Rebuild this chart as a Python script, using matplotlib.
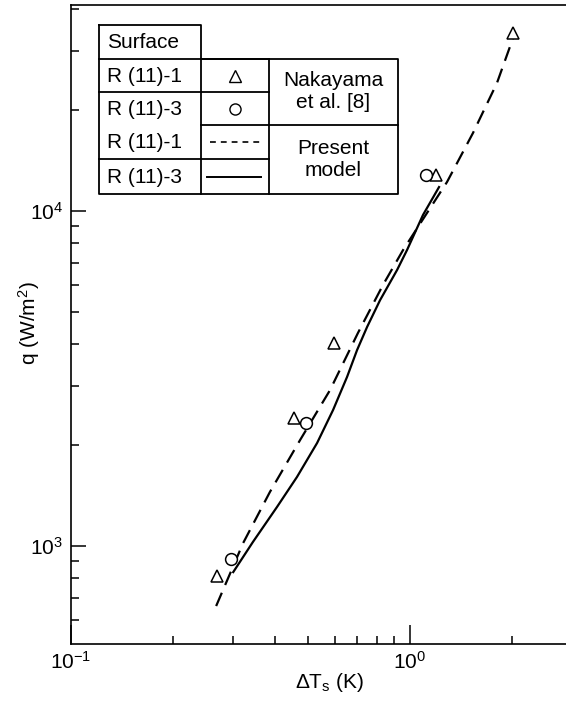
import matplotlib

matplotlib.use("Agg")
import matplotlib.pyplot as plt
from matplotlib.ticker import LogLocator, NullFormatter

plt.rcParams["font.family"] = ["Liberation Sans", "DejaVu Sans"]
plt.rcParams["mathtext.fontset"] = "custom"
plt.rcParams["mathtext.rm"] = "Liberation Sans"
plt.rcParams["mathtext.it"] = "Liberation Sans:italic"

# ── data ──
tri_dT = [0.270, 0.455, 0.597, 1.193, 2.01]
tri_q = [813, 2410, 4036, 12800, 34000]
circ_dT = [0.296, 0.493, 1.115]
circ_q = [915, 2330, 12800]

# present model, R(11)-1 (dashed)
dash_dT = [0.268, 0.322, 0.386, 0.474, 0.581, 0.702, 0.832, 0.954,
           1.286, 1.534, 1.805, 2.013]
dash_q = [662, 1021, 1449, 2072, 2922, 4323, 6012, 7648,
          12210, 17100, 24100, 32800]

# present model, R(11)-3 (solid)
solid_dT = [0.301, 0.344, 0.405, 0.464, 0.532, 0.593, 0.652, 0.698, 0.747, 0.816,
            0.916, 0.980, 1.092, 1.218]
solid_q = [836, 1028, 1307, 1607, 2030, 2547, 3196, 3846, 4505, 5420,
           6668, 7648, 9727, 11790]

FS = 15
W, H = 566, 704

fig = plt.figure(figsize=(W / 100, H / 100), dpi=100)
ax = fig.add_axes([71 / W, 1 - 644 / H, 1 - 71 / W, (644 - 5) / H])

ax.plot(dash_dT, dash_q, color="black", lw=1.6, dashes=(6.5, 3.8))
ax.plot(solid_dT, solid_q, color="black", lw=1.6)
ax.plot(tri_dT, tri_q, ls="none", marker="^", ms=9, mfc="white", mec="black", mew=1.1)
ax.plot(circ_dT, circ_q, ls="none", marker="o", ms=8.5, mfc="white", mec="black", mew=1.1)

ax.set_xscale("log")
ax.set_yscale("log")
ax.set_xlim(0.1, 2.885)
ax.set_ylim(510, 41200)

ax.xaxis.set_minor_locator(LogLocator(base=10, subs=range(2, 10)))
ax.yaxis.set_minor_locator(LogLocator(base=10, subs=range(2, 10)))
ax.xaxis.set_minor_formatter(NullFormatter())
ax.yaxis.set_minor_formatter(NullFormatter())

ax.tick_params(axis="both", which="both", direction="in", width=1.1, labelsize=FS)
ax.tick_params(axis="x", which="major", length=14, pad=5)
ax.tick_params(axis="x", which="minor", length=5.5)
ax.tick_params(axis="y", which="major", length=11, pad=6)
ax.tick_params(axis="y", which="minor", length=6)

for s in ["left", "bottom", "top"]:
    ax.spines[s].set_linewidth(1.2)
ax.spines["right"].set_visible(False)

fig.text(330 / W, 1 - 682 / H, "ΔT$_{\\mathregular{s}}$ (K)", fontsize=FS,
         ha="center", va="center")
fig.text(29 / W, 1 - 323 / H, "q (W/m$^{\\mathregular{2}}$)", fontsize=FS,
         ha="center", va="center", rotation=90)

# ── legend table, drawn on an overlay in pixel units ──
ov = fig.add_axes([0, 0, 1, 1], facecolor="none")
ov.set_xlim(0, W)
ov.set_ylim(H, 0)
ov.axis("off")

c0, c1, c2, c3 = 99, 201, 269, 398
r0, r1, r2, r3, r4, r5 = 25, 59, 92, 125, 159, 194
lk = dict(color="black", lw=1.3)
ov.plot([c0, c1, c1, c0, c0], [r0, r0, r5, r5, r0], **lk)
ov.plot([c1, c3, c3, c1], [r1, r1, r5, r5], **lk)
ov.plot([c2, c2], [r1, r5], **lk)
ov.plot([c1, c3], [r3, r3], **lk)
ov.plot([c0, c2], [r1, r1], **lk)
ov.plot([c0, c2], [r2, r2], **lk)
ov.plot([c0, c2], [r4, r4], **lk)

rows = ["Surface", "R (11)-1", "R (11)-3", "R (11)-1", "R (11)-3"]
edges = [r0, r1, r2, r3, r4, r5]
for i, lab in enumerate(rows):
    ov.text(c0 + 8, (edges[i] + edges[i + 1]) / 2 + 1, lab, fontsize=FS,
            ha="left", va="center")

mx = (c1 + c2) / 2
ov.plot([mx], [(r1 + r2) / 2], ls="none", marker="^", ms=8, mfc="white", mec="black", mew=1.0)
ov.plot([mx], [(r2 + r3) / 2], ls="none", marker="o", ms=8, mfc="white", mec="black", mew=1.0)
ov.plot([c1 + 9, c2 - 8], [(r3 + r4) / 2] * 2, color="black", lw=1.2, dashes=(3.5, 3))
ov.plot([c1 + 6, c2 - 8], [(r4 + r5) / 2] * 2, color="black", lw=1.4)

tx = (c2 + c3) / 2
ov.text(tx, (r1 + r3) / 2, "Nakayama\net al. [8]", fontsize=FS, ha="center",
        va="center", linespacing=1.2)
ov.text(tx, (r3 + r5) / 2, "Present\nmodel", fontsize=FS, ha="center",
        va="center", linespacing=1.2)

fig.savefig("out.png", dpi=100)
